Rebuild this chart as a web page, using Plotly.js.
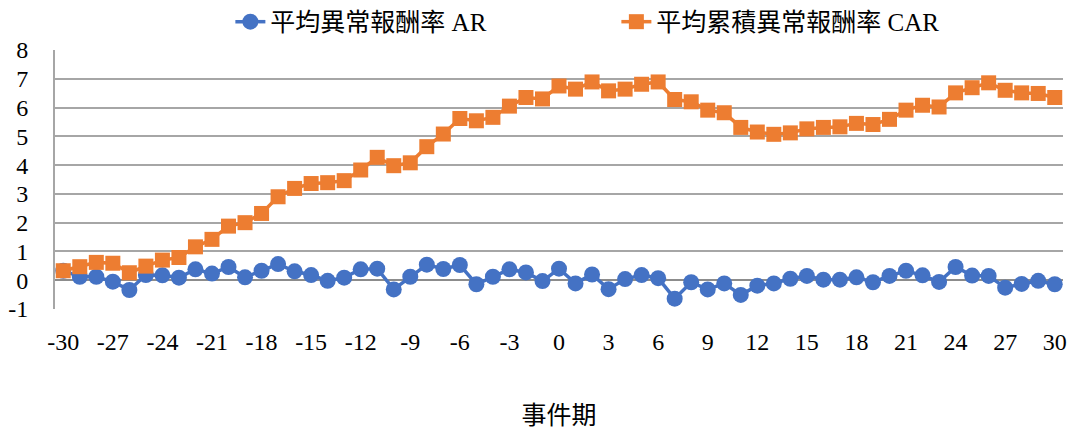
<!DOCTYPE html>
<html>
<head>
<meta charset="utf-8">
<script src="https://cdn.plot.ly/plotly-3.0.1.min.js"></script>
<style>html,body{margin:0;padding:0;background:#fff;}#chart{width:1073px;height:430px;}</style>
</head>
<body>
<div id="chart"></div>
<script>
const eventDays = [-30,-29,-28,-27,-26,-25,-24,-23,-22,-21,-20,-19,-18,-17,-16,-15,-14,-13,-12,-11,-10,
  -9,-8,-7,-6,-5,-4,-3,-2,-1,0,1,2,3,4,5,6,7,8,9,10,
  11,12,13,14,15,16,17,18,19,20,21,22,23,24,25,26,27,28,29,30];

const arValues = [0.33,0.12,0.12,-0.05,-0.34,0.18,0.17,0.09,0.38,0.23,0.46,0.10,0.33,0.56,0.31,0.18,-0.02,0.09,0.38,0.40,-0.32,
  0.12,0.54,0.39,0.53,-0.14,0.12,0.38,0.27,-0.03,0.40,-0.11,0.20,-0.31,0.04,0.18,0.07,-0.64,-0.07,-0.32,-0.11,
  -0.51,-0.19,-0.11,0.05,0.15,0.02,0.02,0.10,-0.07,0.15,0.33,0.17,-0.06,0.46,0.16,0.15,-0.26,-0.13,-0.02,-0.14];

const carValues = [0.33,0.47,0.62,0.59,0.26,0.49,0.70,0.79,1.16,1.42,1.88,2.00,2.32,2.90,3.19,3.36,3.39,3.46,3.83,4.27,3.98,
  4.08,4.64,5.08,5.62,5.54,5.66,6.05,6.35,6.30,6.75,6.64,6.89,6.58,6.64,6.81,6.89,6.28,6.20,5.91,5.82,
  5.31,5.15,5.07,5.12,5.26,5.31,5.33,5.45,5.41,5.59,5.91,6.08,6.02,6.51,6.69,6.86,6.60,6.51,6.49,6.35];

const xTickVals = [-30,-27,-24,-21,-18,-15,-12,-9,-6,-3,0,3,6,9,12,15,18,21,24,27,30];
const yTickVals = [-1,0,1,2,3,4,5,6,7,8];

const seriesNames = ['平均異常報酬率 AR', '平均累積異常報酬率 CAR'];
const xTitle = '事件期';

const fontFam = 'Liberation Serif, Times New Roman, Noto Sans CJK TC, serif';

const traces = [
  {
    x: eventDays, y: arValues, name: seriesNames[0], type: 'scatter', mode: 'lines+markers',
    line: {color: '#4472C4', width: 3.5},
    marker: {color: '#4472C4', size: 16, symbol: 'circle'}
  },
  {
    x: eventDays, y: carValues, name: seriesNames[1], type: 'scatter', mode: 'lines+markers',
    line: {color: '#ED7D31', width: 3.5},
    marker: {color: '#ED7D31', size: 15, symbol: 'square'}
  }
];

const layout = {
  width: 1073, height: 430,
  margin: {l: 55, r: 10, t: 50, b: 121},
  paper_bgcolor: '#fff', plot_bgcolor: '#fff',
  font: {family: fontFam, size: 24, color: '#000'},
  showlegend: true,
  legend: {
    orientation: 'h', xref: 'container', yref: 'container',
    x: 0.2147, xanchor: 'left', y: 0.949, yanchor: 'middle',
    font: {family: fontFam, size: 25, color: '#000'}, traceorder: 'normal',
    entrywidth: 341, entrywidthmode: 'pixels'
  },
  xaxis: {
    range: [-30.5, 30.5], tickvals: xTickVals, ticktext: xTickVals.map(String),
    showgrid: false, zeroline: false, showline: false, ticks: '',
    ticklabelstandoff: 16,
    tickfont: {family: fontFam, size: 24, color: '#000'},
    title: {text: xTitle, standoff: 52, font: {family: fontFam, size: 25, color: '#000'}},
    fixedrange: true
  },
  yaxis: {
    range: [-1, 8], tickvals: yTickVals, ticktext: yTickVals.map(String),
    showgrid: true, gridcolor: '#a6a6a6', gridwidth: 2,
    zeroline: true, zerolinecolor: '#8c8c8c', zerolinewidth: 2,
    showline: true, linecolor: '#a6a6a6', linewidth: 2, ticks: '',
    ticklabelstandoff: 20,
    tickfont: {family: fontFam, size: 24, color: '#000'},
    fixedrange: true
  }
};

Plotly.newPlot('chart', traces, layout, {displayModeBar: false, staticPlot: true});
</script>
</body>
</html>
